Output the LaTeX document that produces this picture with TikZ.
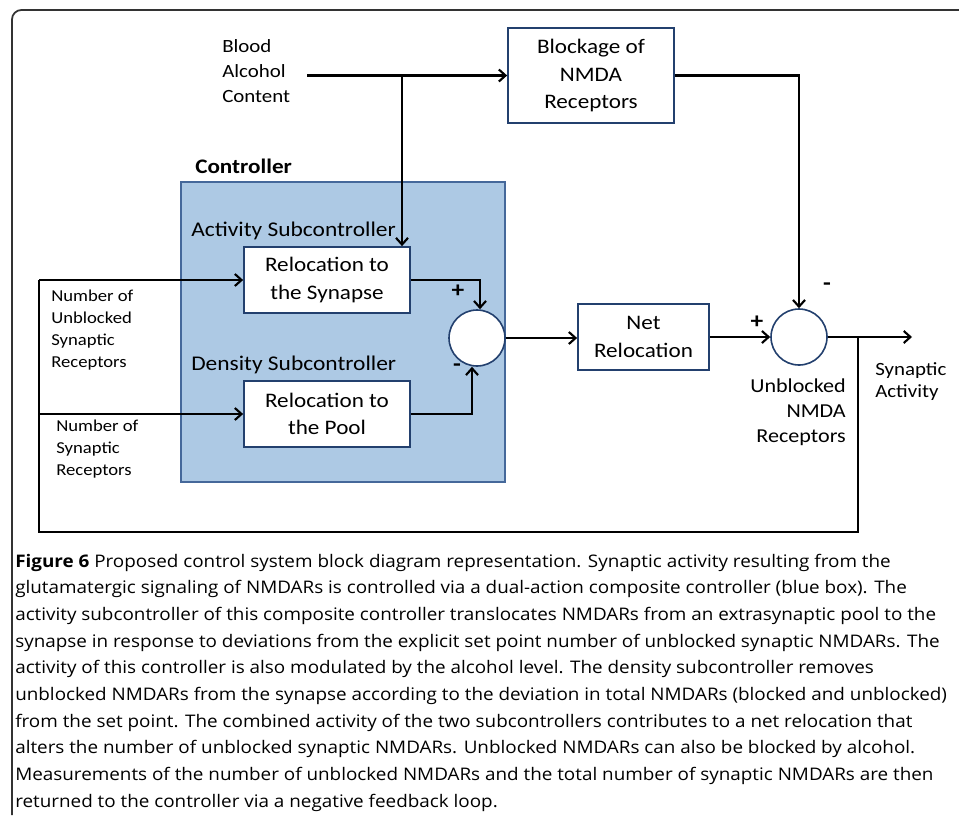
\documentclass[tikz,border=0pt]{standalone}
\usepackage{fontspec}
\setmainfont{Carlito}[FakeStretch=1.12]
\newfontfamily\capfont[FakeStretch=1.088]{Open Sans}
\usetikzlibrary{arrows.meta,calc}
\definecolor{ctrlfill}{HTML}{ADC9E4}
\definecolor{ctrldraw}{HTML}{45689A}
\definecolor{boxdraw}{HTML}{23406E}
\tikzset{
  block/.style={draw=boxdraw, line width=1.3pt, fill=white, align=center,
    inner sep=0pt, font=\fontsize{15.5}{20.7}\selectfont},
  sumnode/.style={circle, draw=boxdraw, line width=1.2pt, fill=white,
    minimum size=42pt, inner sep=0pt},
  sig/.style={line width=1.6pt, -{Straight Barb[length=5pt,width=9pt]}},
  fb/.style={line width=2.2pt},
  lbl/.style={inner sep=0pt, align=left, font=\fontsize{14}{18.75}\selectfont},
  small/.style={inner sep=0pt, align=left, font=\fontsize{12.5}{16.3}\selectfont},
  sign/.style={inner sep=0pt, font=\fontsize{17}{17}\selectfont\bfseries}
}
\begin{document}
\begin{tikzpicture}[x=0.75pt, y=-0.75pt]
\useasboundingbox (0,0) rectangle (959,815);
%frame
\draw[line width=1.3pt, black!80, rounded corners=7pt] (12,815) -- (12,10) -- (965,10);
%controller
\draw[draw=ctrldraw, line width=1.6pt, fill=ctrlfill] (181,182) rectangle (505,482);
\node[anchor=base west, inner sep=0pt, font=\fontsize{15.5}{15.5}\selectfont\bfseries] (ctrl) at (195,173) {Controller};
\node[anchor=base west, inner sep=0pt, font=\fontsize{15.7}{15.7}\selectfont] (actlbl) at (191,236) {Activity Subcontroller};
\node[anchor=base west, inner sep=0pt, font=\fontsize{15.7}{15.7}\selectfont] (denlbl) at (191,370) {Density Subcontroller};
%blocks
\node[block, minimum width=124.5pt, minimum height=71pt] (blockage) at (591,75.5) {Blockage of\\NMDA\\Receptors};
\node[block, minimum width=124.5pt, minimum height=49.5pt] (synbox) at (327,280) {Relocation to\\the Synapse};
\node[block, minimum width=124.5pt, minimum height=49.5pt] (poolbox) at (327,414) {Relocation to\\the Pool};
\node[block, minimum width=98.25pt, minimum height=49.5pt] (netbox) at (643.5,337) {Net\\Relocation};
\node[sumnode] (sum1) at (477,338) {};
\node[sumnode] (sum2) at (799,337) {};
%labels
\node[anchor=base west, lbl] (bac) at (222,102) {Blood\\Alcohol\\Content};
\node[anchor=base west, small] (nunb) at (51,367) {Number of\\Unblocked\\Synaptic\\Receptors};
\node[anchor=base west, small] (nsyn) at (56,475) {Number of\\Synaptic\\Receptors};
\node[anchor=base east, lbl, align=right, font=\fontsize{14.8}{18.4}\selectfont] (unmda) at (846,442) {Unblocked\\NMDA\\Receptors};
\node[anchor=base west, lbl, font=\fontsize{14}{16.5}\selectfont] (synact) at (875,397) {Synaptic\\Activity};
\node[sign] (p1) at (458,291) {+};
\node[sign] (m1) at (457,368) {-};
\node[sign] (p2) at (757,322) {+};
\node[sign] (m2) at (827,287) {-};
%junctions
\coordinate (bacout) at (307,75.5);
\coordinate (j1) at (402,75.5);
\coordinate (outp) at (912,337);
\coordinate (j2) at (858,337);
\coordinate (fbl) at (39,532);
%connectors
\draw[sig] (bacout) -- (blockage.west);
\draw[sig] (j1) -- (j1 |- synbox.north);
\draw[sig] (blockage.east) -| (sum2.north);
\draw[sig] (synbox.east) -| ($(sum1.north)+(3,0)$);
\draw[sig] (poolbox.east) -| ($(sum1.south)+(-5,0)$);
\draw[sig] (sum1.east) -- (sum1.east -| netbox.west);
\draw[sig] (netbox.east) -- (sum2.west);
\draw[sig] (sum2.east) -- (outp);
\draw[fb] (j2) |- (fbl) -- (fbl |- synbox.west);
\draw[sig] (fbl |- synbox.west) -- (synbox.west);
\draw[sig] (fbl |- poolbox.west) -- (poolbox.west);
%caption
\node[anchor=base west, inner sep=0pt, align=left, font=\capfont\fontsize{13}{20}\selectfont] (cap) at (15,807)
{{\bfseries Figure 6} Proposed control system block diagram representation. Synaptic activity resulting from the\\
glutamatergic signaling of NMDARs is controlled via a dual-action composite controller (blue box). The\\
activity subcontroller of this composite controller translocates NMDARs from an extrasynaptic pool to the\\
synapse in response to deviations from the explicit set point number of unblocked synaptic NMDARs. The\\
activity of this controller is also modulated by the alcohol level. The density subcontroller removes\\
unblocked NMDARs from the synapse according to the deviation in total NMDARs (blocked and unblocked)\\
from the set point. The combined activity of the two subcontrollers contributes to a net relocation that\\
alters the number of unblocked synaptic NMDARs. Unblocked NMDARs can also be blocked by alcohol.\\
Measurements of the number of unblocked NMDARs and the total number of synaptic NMDARs are then\\
returned to the controller via a negative feedback loop.};
\end{tikzpicture}
\end{document}
